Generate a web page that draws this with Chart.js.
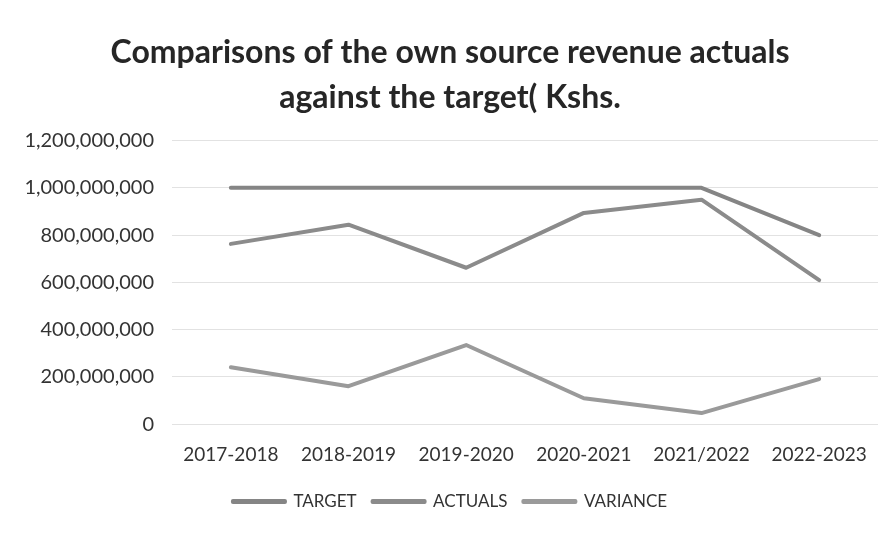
<!DOCTYPE html>
<html>
<head>
<meta charset="utf-8">
<script src="https://cdn.jsdelivr.net/npm/chart.js@4.4.1/dist/chart.umd.min.js"></script>
<style>
    html, body { margin: 0; padding: 0; background: #ffffff; }
    #wrap { width: 882px; height: 534px; }
</style>
</head>
<body>
<div id="wrap"><canvas id="chart" width="882" height="534"></canvas></div>
<script>
// ================== DATA ==================
const years    = ["2017-2018", "2018-2019", "2019-2020", "2020-2021", "2021/2022", "2022-2023"];
const target   = [1000000000, 1000000000, 1000000000, 1000000000, 1000000000, 800000000];
const actuals  = [763000000, 844000000, 662000000, 894000000, 950000000, 610000000];
const variance = [241000000, 161000000, 335000000, 110000000, 47000000, 191000000];

const titleLines = ["Comparisons of the own source revenue actuals", "against the target( Kshs."];

// ================== CHART ==================
const FONT = "Lato, 'Open Sans', sans-serif";

function fmt(v) {
    return Number(v).toLocaleString("en-US");
}

const ctx = document.getElementById("chart");

new Chart(ctx, {
    type: "line",
    data: {
        labels: years,
        datasets: [
            { label: "TARGET",   data: target,   borderColor: "#858585", backgroundColor: "#858585" },
            { label: "ACTUALS",  data: actuals,  borderColor: "#8b8b8b", backgroundColor: "#8b8b8b" },
            { label: "VARIANCE", data: variance, borderColor: "#9a9a9a", backgroundColor: "#9a9a9a" }
        ]
    },
    options: {
        responsive: false,
        animation: false,
        elements: {
            line: { borderWidth: 4, tension: 0, borderCapStyle: "round", borderJoinStyle: "round" },
            point: { radius: 0, hoverRadius: 0 }
        },
        layout: { padding: { left: 22, right: 4, top: 30, bottom: 14 } },
        plugins: {
            title: {
                display: true,
                text: titleLines,
                color: "#262626",
                font: { family: FONT, size: 32, weight: "bold", lineHeight: 1.4 },
                padding: { top: 0, bottom: 21 }
            },
            legend: {
                position: "bottom",
                labels: {
                    color: "#333333",
                    font: { family: FONT, size: 17 },
                    boxWidth: 52,
                    boxHeight: 1,
                    padding: 16
                }
            },
            tooltip: { enabled: false }
        },
        scales: {
            x: {
                offset: true,
                grid: { display: false },
                border: { display: false },
                ticks: {
                    color: "#333333",
                    font: { family: FONT, size: 19 },
                    padding: 11,
                    maxRotation: 0
                }
            },
            y: {
                min: 0,
                max: 1200000000,
                grid: { color: "#e2e2e2", lineWidth: 1, drawTicks: false },
                border: { display: false },
                afterFit: (axis) => { axis.width = 150; },
                ticks: {
                    stepSize: 200000000,
                    color: "#333333",
                    font: { family: FONT, size: 20 },
                    padding: 18,
                    callback: (v) => fmt(v)
                }
            }
        }
    }
});
</script>
</body>
</html>
